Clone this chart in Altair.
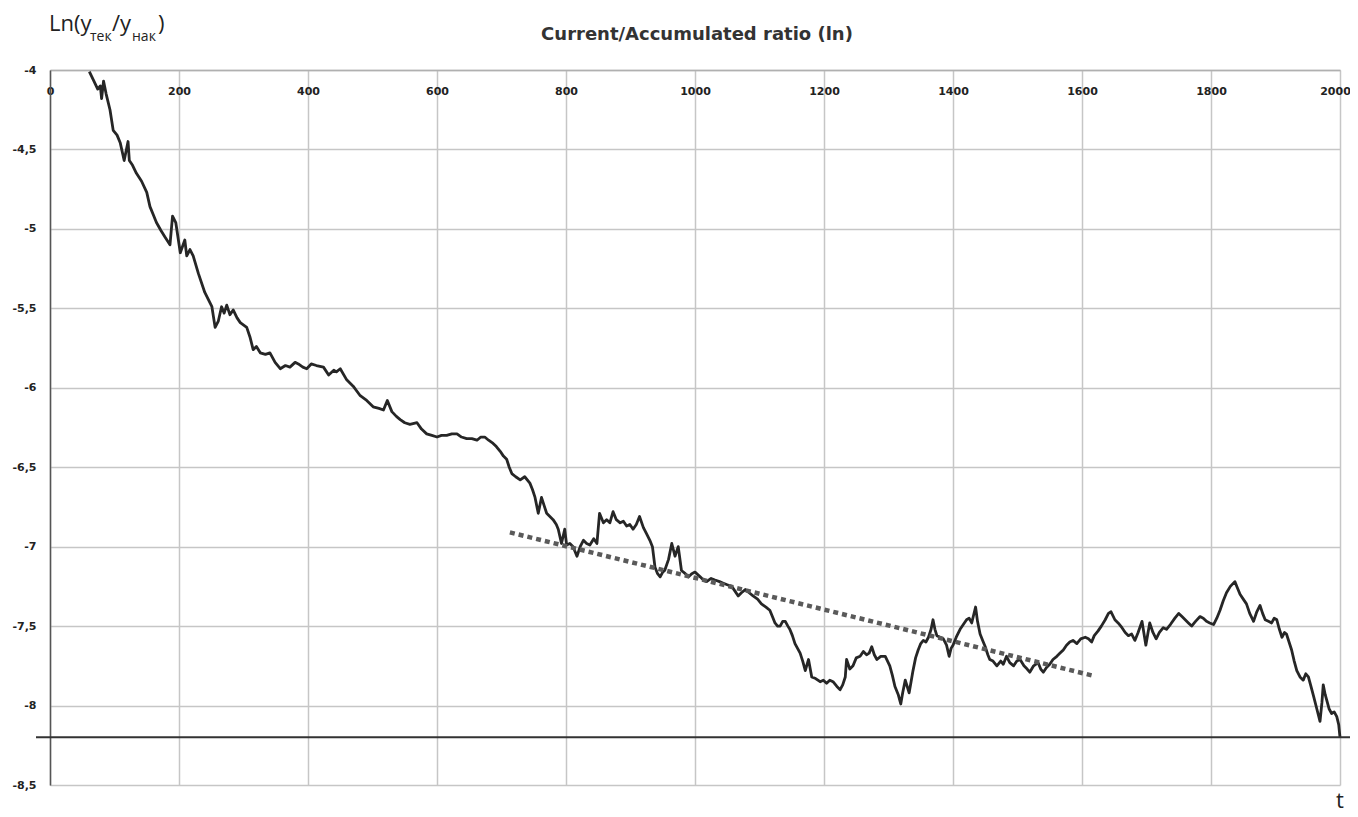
import altair as alt
import pandas as pd

# ---- data ----
t_vals = [61, 67, 74, 78, 80, 83, 87, 93, 98, 104, 109, 115, 121, 123, 128, 134, 142, 150, 155, 160,
          165, 172, 178, 186, 190, 195, 202, 209, 212, 217, 222, 230, 240, 251, 256, 261, 266, 270, 274, 279,
          284, 290, 295, 305, 310, 315, 320, 326, 334, 341, 349, 357, 365, 372, 380, 385, 392, 398, 405, 413,
          424, 432, 440, 444, 450, 460, 470, 481, 491, 501, 510, 517, 523, 530, 537, 543, 550, 558, 569, 576,
          584, 592, 600, 607, 615, 623, 631, 638, 646, 654, 662, 668, 674, 680, 687, 692, 698, 703, 708, 712,
          716, 722, 729, 736, 744, 748, 752, 757, 762, 766, 770, 775, 780, 785, 788, 793, 798, 801, 806, 811,
          817, 822, 827, 832, 837, 843, 848, 852, 858, 863, 868, 873, 878, 884, 889, 894, 899, 904, 909, 914,
          920, 925, 930, 934, 938, 942, 946, 950, 953, 959, 964, 969, 974, 979, 985, 990, 995, 1000, 1008, 1013,
          1018, 1025, 1031, 1038, 1044, 1050, 1057, 1062, 1067, 1072, 1078, 1084, 1090, 1097, 1103, 1110, 1116, 1120, 1124, 1128,
          1132, 1136, 1140, 1144, 1147, 1151, 1155, 1159, 1163, 1167, 1171, 1176, 1181, 1187, 1194, 1199, 1204, 1209, 1214, 1220,
          1225, 1229, 1233, 1235, 1240, 1245, 1250, 1256, 1261, 1266, 1270, 1274, 1278, 1282, 1288, 1295, 1302, 1306, 1310, 1315,
          1319, 1322, 1326, 1329, 1332, 1335, 1338, 1342, 1346, 1350, 1354, 1358, 1362, 1366, 1369, 1372, 1375, 1380, 1385, 1390,
          1394, 1397, 1400, 1405, 1411, 1416, 1421, 1425, 1429, 1432, 1435, 1438, 1442, 1446, 1450, 1454, 1457, 1462, 1468, 1474,
          1478, 1483, 1488, 1494, 1499, 1504, 1510, 1515, 1519, 1525, 1532, 1536, 1540, 1545, 1550, 1555, 1561, 1566, 1571, 1576,
          1581, 1586, 1592, 1598, 1605, 1610, 1615, 1619, 1625, 1630, 1636, 1641, 1645, 1651, 1656, 1662, 1667, 1672, 1677, 1682,
          1687, 1693, 1699, 1702, 1705, 1710, 1715, 1720, 1726, 1731, 1737, 1744, 1750, 1755, 1760, 1765, 1770, 1776, 1783, 1788,
          1793, 1798, 1804, 1809, 1814, 1819, 1824, 1830, 1837, 1841, 1845, 1850, 1855, 1860, 1866, 1871, 1876, 1880, 1884, 1889,
          1894, 1898, 1902, 1906, 1910, 1914, 1917, 1921, 1925, 1929, 1933, 1938, 1943, 1947, 1951, 1955, 1959, 1964, 1969, 1972,
          1974, 1977, 1979, 1983, 1987, 1991, 1995, 1998, 2000]

ln_vals = [-4.01, -4.06, -4.12, -4.10, -4.18, -4.07, -4.15, -4.25, -4.38, -4.41, -4.46, -4.57, -4.45, -4.57, -4.60, -4.65, -4.70, -4.77, -4.86, -4.91,
           -4.96, -5.01, -5.05, -5.10, -4.92, -4.96, -5.15, -5.07, -5.17, -5.13, -5.17, -5.28, -5.40, -5.49, -5.62, -5.58, -5.49, -5.53, -5.48, -5.54,
           -5.51, -5.56, -5.59, -5.62, -5.68, -5.76, -5.74, -5.78, -5.79, -5.78, -5.84, -5.88, -5.86, -5.87, -5.84, -5.85, -5.87, -5.88, -5.85, -5.86,
           -5.87, -5.92, -5.89, -5.90, -5.88, -5.95, -5.99, -6.05, -6.08, -6.12, -6.13, -6.14, -6.08, -6.15, -6.18, -6.20, -6.22, -6.23, -6.22, -6.26,
           -6.29, -6.30, -6.31, -6.30, -6.30, -6.29, -6.29, -6.31, -6.32, -6.32, -6.33, -6.31, -6.31, -6.33, -6.35, -6.37, -6.40, -6.43, -6.45, -6.50,
           -6.54, -6.56, -6.58, -6.56, -6.60, -6.64, -6.69, -6.79, -6.69, -6.74, -6.79, -6.81, -6.83, -6.86, -6.89, -6.98, -6.89, -6.99, -6.98, -7.00,
           -7.06, -7.00, -6.96, -6.98, -6.99, -6.95, -6.98, -6.79, -6.85, -6.83, -6.85, -6.78, -6.83, -6.85, -6.84, -6.87, -6.86, -6.89, -6.86, -6.81,
           -6.88, -6.92, -6.96, -7.00, -7.13, -7.17, -7.19, -7.16, -7.15, -7.08, -6.98, -7.06, -7.00, -7.15, -7.17, -7.19, -7.17, -7.16, -7.19, -7.21,
           -7.22, -7.20, -7.21, -7.22, -7.23, -7.24, -7.25, -7.28, -7.31, -7.29, -7.27, -7.29, -7.31, -7.33, -7.36, -7.38, -7.40, -7.44, -7.48, -7.50,
           -7.50, -7.47, -7.47, -7.50, -7.52, -7.56, -7.61, -7.64, -7.67, -7.72, -7.78, -7.71, -7.82, -7.83, -7.85, -7.84, -7.86, -7.84, -7.85, -7.88,
           -7.90, -7.87, -7.82, -7.71, -7.77, -7.75, -7.70, -7.69, -7.66, -7.68, -7.67, -7.63, -7.68, -7.71, -7.69, -7.69, -7.75, -7.81, -7.88, -7.93,
           -7.99, -7.92, -7.84, -7.88, -7.92, -7.85, -7.78, -7.70, -7.65, -7.61, -7.59, -7.60, -7.57, -7.52, -7.46, -7.52, -7.56, -7.57, -7.58, -7.62,
           -7.69, -7.64, -7.62, -7.57, -7.52, -7.49, -7.46, -7.45, -7.48, -7.43, -7.38, -7.47, -7.55, -7.59, -7.63, -7.68, -7.71, -7.72, -7.75, -7.72,
           -7.74, -7.69, -7.73, -7.75, -7.72, -7.71, -7.75, -7.77, -7.79, -7.75, -7.73, -7.77, -7.79, -7.76, -7.74, -7.71, -7.69, -7.67, -7.65, -7.62,
           -7.60, -7.59, -7.61, -7.58, -7.57, -7.58, -7.60, -7.56, -7.53, -7.50, -7.46, -7.42, -7.41, -7.46, -7.48, -7.51, -7.54, -7.56, -7.55, -7.59,
           -7.54, -7.47, -7.62, -7.55, -7.48, -7.54, -7.58, -7.54, -7.51, -7.52, -7.49, -7.45, -7.42, -7.44, -7.46, -7.48, -7.50, -7.47, -7.44, -7.45,
           -7.47, -7.48, -7.49, -7.45, -7.40, -7.34, -7.29, -7.25, -7.22, -7.26, -7.30, -7.33, -7.36, -7.42, -7.47, -7.41, -7.37, -7.42, -7.46, -7.47,
           -7.48, -7.45, -7.46, -7.52, -7.57, -7.54, -7.55, -7.60, -7.65, -7.72, -7.78, -7.82, -7.84, -7.80, -7.82, -7.88, -7.94, -8.02, -8.10, -7.98,
           -7.87, -7.93, -7.96, -8.02, -8.05, -8.04, -8.07, -8.12, -8.20]

trend_t = [713, 1615]
trend_vals = [-6.91, -7.81]

baseline_value = -8.2

x_ticks = [0, 200, 400, 600, 800, 1000, 1200, 1400, 1600, 1800, 2000]
y_ticks = [-4, -4.5, -5, -5.5, -6, -6.5, -7, -7.5, -8, -8.5]

title_text = "Current/Accumulated ratio (ln)"
x_label = "t"

W, H = 1290, 715
FONT = "Open Sans"
TICK_FONT = "DejaVu Sans"

series = pd.DataFrame({"t": t_vals, "v": ln_vals})
trend = pd.DataFrame({"t": trend_t, "v": trend_vals})
base = pd.DataFrame({"v": [baseline_value]})

x_scale = alt.Scale(domain=[0, 2000], nice=False, zero=False)
y_scale = alt.Scale(domain=[-8.5, -4], nice=False, zero=False)

x_axis = alt.Axis(
    orient="top", values=x_ticks, format="d", title=None,
    grid=True, gridColor="#c6c6c6", gridWidth=1.5,
    domain=True, domainColor="#b0b0b0", domainWidth=1.5,
    ticks=False, labelPadding=-26, labelFlush=False, labelOverlap=False,
    labelOffset={"expr": "datum.value == 2000 ? -5 : 0"},
    labelFont=TICK_FONT, labelFontSize=11, labelFontWeight="bold", labelColor="#222222",
)
y_axis = alt.Axis(
    values=y_ticks, title=None,
    grid=True, gridColor="#c6c6c6", gridWidth=1.5,
    domain=True, domainColor="#555555", domainWidth=1.5,
    ticks=False, labelPadding=14, labelFlush=False, labelOverlap=False,
    labelExpr="replace(toString(datum.value), '.', ',')",
    labelFont=TICK_FONT, labelFontSize=11, labelFontWeight="bold", labelColor="#222222",
)

line = alt.Chart(series).mark_line(color="#262626", strokeWidth=2.8, strokeJoin="round").encode(
    x=alt.X("t:Q", scale=x_scale, axis=x_axis),
    y=alt.Y("v:Q", scale=y_scale, axis=y_axis),
)

trend_line = alt.Chart(trend).mark_line(
    color="#5a5a5a", strokeWidth=4.5, strokeDash=[5, 4]
).encode(x=alt.X("t:Q", scale=x_scale), y=alt.Y("v:Q", scale=y_scale))

rule = alt.Chart(base).mark_rule(color="#333333", strokeWidth=2).encode(
    y=alt.Y("v:Q", scale=y_scale),
    x=alt.value(-14),
    x2=alt.value(W + 10),
)

one = alt.Data(values=[{}])

def label(text, x, y, size, weight="normal", align="left", color="#222222", font=FONT):
    return alt.Chart(one).mark_text(
        text=text, font=font, fontSize=size, fontWeight=weight, align=align,
        baseline="alphabetic", color=color,
    ).encode(x=alt.value(x), y=alt.value(y))

title = label(title_text, 647, -30, 18, weight="bold", align="center", color="#333333", font=TICK_FONT)
t_lab = label(x_label, 1290, 738, 22, align="center")
ln1 = label("Ln(y", -1, -39, 22)
ln2 = label("тек", 40, -29, 14)
ln3 = label("/y", 62, -39, 22)
ln4 = label("нак", 82, -29, 14)
ln5 = label(")", 108, -39, 22)

chart = alt.layer(
    line, trend_line, rule, title, t_lab, ln1, ln2, ln3, ln4, ln5
).properties(
    width=W, height=H,
    autosize=alt.AutoSizeParams(type="none"),
    padding={"left": 42, "top": 62, "right": 10, "bottom": 32},
).configure_view(stroke=None)

chart.save("out.html", embed_options={"renderer": "svg", "actions": False})
